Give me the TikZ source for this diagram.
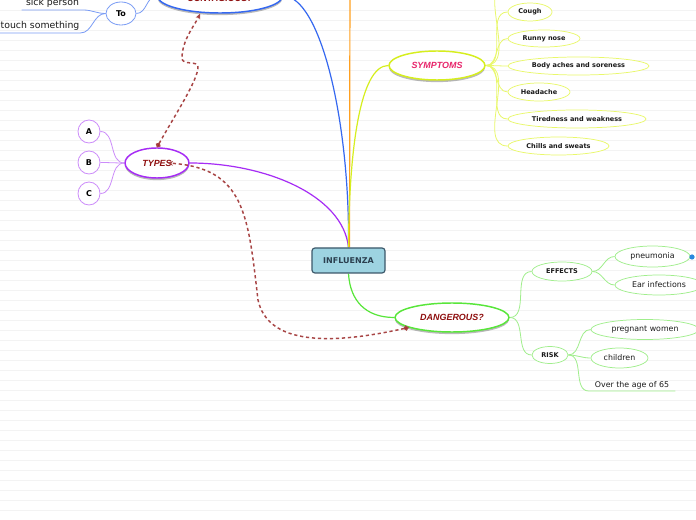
\documentclass[tikz,border=0pt]{standalone}
\usepackage{fontspec}
\setmainfont{DejaVu Sans}
\newfontfamily\libsans{Liberation Sans}
\usetikzlibrary{shapes.geometric,arrows.meta,shadows}
\definecolor{paperline}{HTML}{F3F3F3}
\definecolor{bluemain}{HTML}{3568F0}
\definecolor{bluelight}{HTML}{7A9CF5}
\definecolor{orangemain}{HTML}{FFA020}
\definecolor{yellowmain}{HTML}{D6EE1E}
\definecolor{yellowlight}{HTML}{E9F86A}
\definecolor{purplemain}{HTML}{A62CF5}
\definecolor{purplelight}{HTML}{CC8CFA}
\definecolor{greenmain}{HTML}{58E63A}
\definecolor{greenlight}{HTML}{A0EE8C}
\definecolor{darkred}{HTML}{8E0E0E}
\definecolor{pinkred}{HTML}{E8246A}
\definecolor{dashc}{HTML}{A84545}
\definecolor{dotc}{HTML}{990A0A}
\definecolor{inflfill}{HTML}{9DD3E1}
\definecolor{inflborder}{HTML}{3C586A}
\definecolor{infltext}{HTML}{2B4050}
\definecolor{textc}{HTML}{1A1A1A}
\definecolor{bdotc}{HTML}{2A88DD}
\pgfdeclarelayer{bg}
\pgfsetlayers{bg,main}
\tikzset{
  shadowed/.style={drop shadow={shadow xshift=0pt,shadow yshift=-1.6pt,opacity=0.45,fill=black!60}},
  hub/.style={ellipse, inner sep=0pt, fill=white, line width=1.1pt, shadowed,
    font=\libsans\bfseries\itshape\fontsize{6.7}{8}\selectfont},
  leafb/.style={ellipse, inner sep=0pt, draw, fill=white, line width=0.55pt, text=textc,
    font=\bfseries\fontsize{4.9}{6}\selectfont},
  leafr/.style={ellipse, inner sep=0pt, draw, fill=white, line width=0.55pt, text=textc,
    font=\fontsize{5.9}{7}\selectfont},
  letter/.style={ellipse, inner sep=0pt, draw=purplelight, fill=white, line width=0.6pt, text=black,
    minimum width=16.5pt, minimum height=17.25pt, font=\bfseries\fontsize{6}{7}\selectfont},
  uline/.style={inner xsep=0pt, inner ysep=1.1pt, text depth=1.7pt, anchor=south, text=textc},
  link/.style={line width=0.6pt},
  mainlink/.style={line width=0.9pt},
  dashlink/.style={draw=dashc, line width=1.1pt, dash pattern=on 2.4pt off 2.1pt},
}
\begin{document}
\begin{tikzpicture}[x=0.75pt,y=-0.75pt]
\useasboundingbox (0,0) rectangle (696,520);

% nodes
\node[rectangle, rounded corners=2.2pt, draw=inflborder, fill=inflfill, line width=0.9pt,
  minimum width=54.75pt, minimum height=18.75pt, inner sep=0pt, text=infltext,
  font=\bfseries\fontsize{6}{7}\selectfont] (infl) at (348.5,260.5) {INFLUENZA};

\node[hub, draw=bluemain, minimum width=93.75pt, minimum height=25.5pt,
  label={[text=darkred, font=\libsans\bfseries\itshape\fontsize{6.7}{8}\selectfont, yshift=-1.7pt]center:CONTAGIOUS?}] (top) at (220,-4) {};

\node[hub, draw=yellowmain, text=pinkred, minimum width=72pt, minimum height=21.75pt] (sym) at (437,65.5) {SYMPTOMS};
\node[leafb, draw=yellowlight, minimum width=33pt, minimum height=13.5pt] (cough) at (530,12) {Cough};
\node[leafb, draw=yellowlight, minimum width=54pt, minimum height=12.75pt] (runny) at (544,38.5) {Runny nose};
\node[leafb, draw=yellowlight, minimum width=105.75pt, minimum height=13.5pt] (body) at (578.5,66) {Body aches and soreness};
\node[leafb, draw=yellowlight, minimum width=46.5pt, minimum height=13.5pt] (head) at (539,92) {Headache};
\node[leafb, draw=yellowlight, minimum width=103.5pt, minimum height=13.5pt] (tired) at (577,119) {Tiredness and weakness};
\node[leafb, draw=yellowlight, minimum width=75.75pt, minimum height=13.5pt] (chills) at (558.5,146) {Chills and sweats};
\coordinate (symTop) at (508,-18);

\node[hub, draw=purplemain, text=darkred, minimum width=48pt, minimum height=22.5pt] (types) at (157,163) {TYPES};
\node[letter] (a) at (89,131.5) {A};
\node[letter] (b) at (89,162.5) {B};
\node[letter] (c) at (89,193.5) {C};

\node[hub, draw=greenmain, text=darkred, minimum width=85.5pt, minimum height=21.75pt] (dang) at (452,317.5) {DANGEROUS?};
\node[leafb, draw=greenlight, minimum width=45pt, minimum height=14.25pt] (effects) at (562,271.5) {EFFECTS};
\node[leafb, draw=greenlight, minimum width=27pt, minimum height=12.75pt] (risk) at (550,355) {RISK};
\node[leafr, draw=greenlight, minimum width=56.25pt, minimum height=15.75pt] (pneu) at (652.5,256.5) {pneumonia};
\node[leafr, draw=greenlight, minimum width=66pt, minimum height=15pt] (ear) at (659,285) {Ear infections};
\node[leafr, draw=greenlight, minimum width=81pt, minimum height=15pt] (preg) at (645,329.5) {pregnant women};
\node[leafr, draw=greenlight, minimum width=42.75pt, minimum height=15pt] (child) at (619.5,358) {children};
\node[uline, minimum width=64.5pt, font=\fontsize{5.9}{7}\selectfont] (over) at (632,391) {Over the age of 65};
\node[circle, fill=bdotc, inner sep=0pt, minimum size=3.9pt] (bdot) at (692,257) {};

\node[ellipse, draw=bluelight, fill=white, line width=0.6pt, inner sep=0pt, minimum width=22.5pt,
  minimum height=17.25pt, font=\bfseries\fontsize{6}{7}\selectfont, text=black] (to) at (121,13.5) {To};
\node[uline, minimum width=45.75pt, font=\fontsize{7}{8}\selectfont] (sick) at (52.5,10) {sick person};
\node[uline, minimum width=60pt, font=\fontsize{7}{8}\selectfont] (touch) at (40,33) {touch something};
\coordinate (orangeEnd) at (350,-30);

% background and connectors
\begin{pgfonlayer}{bg}
\fill[white] (0,0) rectangle (696,520);
\foreach \k in {1,...,51} \draw[paperline, line width=0.6pt] (0,10*\k) -- (696,10*\k);
\draw[mainlink, bluemain] (top.east) .. controls (320,-4) and (350,120) .. (infl.north);
\draw[mainlink, orangemain] (orangeEnd) -- ([xshift=0.75pt]infl.north);
\draw[mainlink, purplemain] (types.east) .. controls (265,163) and (343,195) .. (infl.north);
\draw[mainlink, yellowmain] (infl.north) .. controls (349,150) and (360,65.5) .. (sym.west);
\draw[mainlink, greenmain] (infl.south) .. controls (350,300) and (365,317.5) .. (dang.west);
\draw[link, yellowlight] (sym.east) to[out=0,in=180] (symTop);
\foreach \n in {cough,runny,body,head,tired,chills}
  \draw[link, yellowlight] (sym.east) to[out=0,in=180] (\n.west);
\foreach \n in {a,b,c}
  \draw[link, purplelight] (types.west) to[out=180,in=0] (\n.east);
\draw[link, greenlight] (dang.east) to[out=0,in=180] (effects.west);
\draw[link, greenlight] (dang.east) to[out=0,in=180] (risk.west);
\draw[link, greenlight] (effects.east) to[out=0,in=180] (pneu.west);
\draw[link, greenlight] (effects.east) to[out=0,in=180] (ear.west);
\draw[link, greenlight] (risk.east) to[out=0,in=180] (preg.west);
\draw[link, greenlight] (risk.east) to[out=0,in=180] (child.west);
\draw[link, greenlight] (risk.east) to[out=0,in=180] (over.south west) -- (over.south east);
\draw[link, bluelight] (to.east) to[out=0,in=180] (top.west);
\draw[link, bluelight] (to.west) to[out=180,in=0] (sick.south east) -- (sick.south west);
\draw[link, bluelight] (to.west) to[out=180,in=0] (touch.south east) -- (touch.south west);
\end{pgfonlayer}

% dashed relations
\draw[dashlink, {Circle[length=3.8pt,fill=dotc]}-{Stealth[length=4pt,width=3.6pt]}]
  (types.north) .. controls (175,115) and (198,80) .. (198,67)
  .. controls (198,60) and (182,66) .. (182,58)
  .. controls (182,40) and (195,25) .. ([xshift=-15pt]top.south);
\draw[dashlink, {Circle[length=3.8pt,fill=dotc]}-{Stealth[length=4pt,width=3.6pt]}]
  (dang.193) .. controls (330,345) and (268,345) .. (258,300)
  .. controls (248,215) and (245,168) .. ([xshift=8pt]types.center);
\end{tikzpicture}
\end{document}
